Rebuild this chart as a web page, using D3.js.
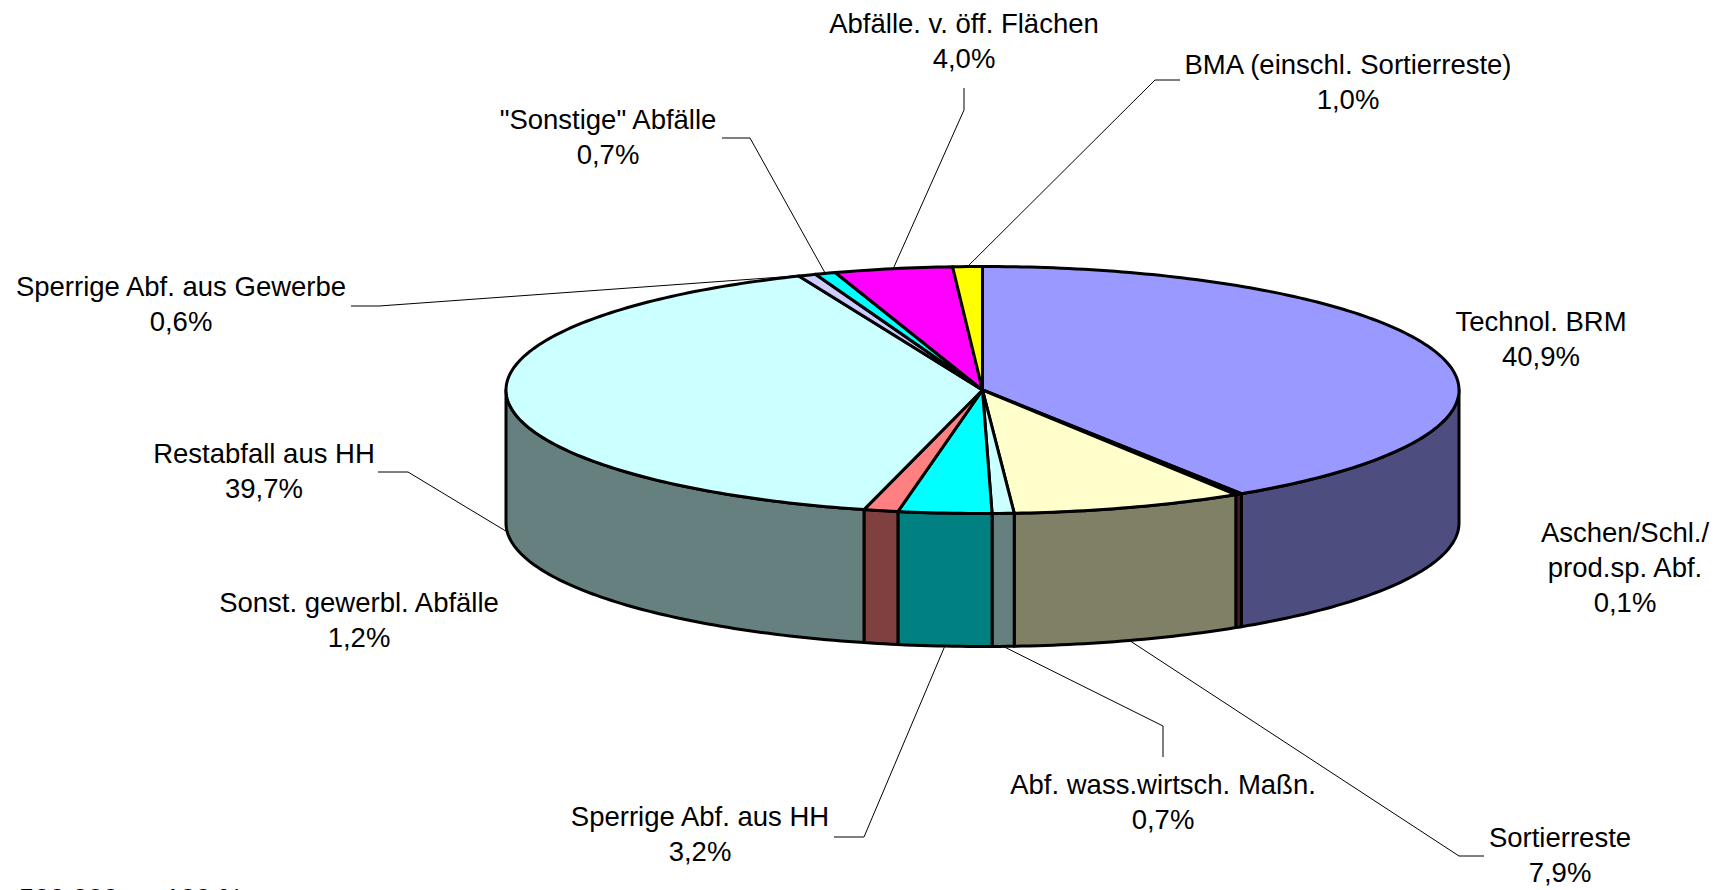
<!DOCTYPE html>
<html>
<head>
<meta charset="utf-8">
<script src="https://cdn.jsdelivr.net/npm/d3@7"></script>
<style>
  html, body { margin: 0; padding: 0; background: #fff; overflow: hidden; }
  text { font-family: "Liberation Sans", Arial, sans-serif; font-size: 27.5px; fill: #000; }
</style>
</head>
<body>
<div id="chart"></div>
<script>
const categories = ['Technol. BRM', 'Aschen/Schl./\nprod.sp. Abf.', 'Sortierreste', 'Abf. wass.wirtsch. Maßn.',
  'Sperrige Abf. aus HH', 'Sonst. gewerbl. Abfälle', 'Restabfall aus HH', 'Sperrige Abf. aus Gewerbe',
  '"Sonstige" Abfälle', 'Abfälle. v. öff. Flächen', 'BMA (einschl. Sortierreste)']
const values = [40.86, 0.14, 7.86, 0.74, 3.16, 1.16, 39.7, 0.6, 0.7, 4.0, 1.0]
const topColors = ['#9999ff', '#993366', '#ffffcc', '#ccffff', '#00ffff', '#ff8080', '#ccffff', '#ccccff', '#00ffff', '#ff00ff', '#ffff00']
const footnote = '500.000 t = 100 %'

// Layout, not data

const W = 1720
const H = 890
const CX = 982.5
const CY = 390
const RX = 476.5
const RY = 123.5
const DEPTH = 133
const MIN_SHARE = 0.22 // thinnest slice stays visible between its outlines

// label centre x, first baseline y, per category
const labelPos = [
  [1541, 331], [1625, 542], [1560, 847], [1163, 794], [700, 826], [359, 612], [264, 463], [181, 296], [608, 129], [964, 33], [1348, 74],
]
// leader elbows, from the slice outwards, null = no leader
const leaders = [
  null, null,
  [[1459, 856], [1484, 856]],
  [[1163, 726], [1163, 757]],
  [[864, 837], [834, 837]],
  null,
  [[408, 472], [378, 472]],
  [[379, 306], [351, 306]],
  [[750, 138], [722, 138]],
  [[964, 110], [964, 88]],
  [[1155, 80], [1180, 80]],
]

const fmt = v => d3.format('.1f')(v).replace('.', ',') + '%'

const pieAngles = d3.pie().value(d => Math.max(d, MIN_SHARE)).sort(null)(values)

// angle 0 = top, clockwise, same as d3.pie
const rim = (a, drop = 0) => [CX + RX * Math.sin(a), CY - RY * Math.cos(a) + drop]

function rimPoints(a0, a1, drop = 0) {
  const n = Math.max(2, Math.ceil(Math.abs(a1 - a0) * 60))
  return d3.range(n + 1).map(i => rim(a0 + ((a1 - a0) * i) / n, drop))
}

const svg = d3
  .select('#chart')
  .append('svg')
  .attr('width', W)
  .attr('height', H)

const line = d3.line()
const darker = c => {
  const { r, g, b } = d3.rgb(c)
  return d3.rgb(r / 2, g / 2, b / 2).formatHex()
}

// Side wall, only the part of each slice facing front

const wallGroup = svg.append('g')
pieAngles.forEach((s, i) => {
  const a0 = Math.max(s.startAngle, Math.PI / 2)
  const a1 = Math.min(s.endAngle, (3 * Math.PI) / 2)
  if (a1 <= a0) return
  const pts = [...rimPoints(a0, a1), ...rimPoints(a1, a0, DEPTH)]
  wallGroup
    .append('path')
    .attr('d', line(pts) + 'Z')
    .attr('fill', darker(topColors[i]))
    .attr('stroke', '#000')
    .attr('stroke-width', 3)
    .attr('stroke-linejoin', 'round')
})

// Top face

const topGroup = svg.append('g')
pieAngles.forEach((s, i) => {
  const pts = [[CX, CY], ...rimPoints(s.startAngle, s.endAngle)]
  topGroup
    .append('path')
    .attr('d', line(pts) + 'Z')
    .attr('fill', topColors[i])
    .attr('stroke', '#000')
    .attr('stroke-width', 3)
    .attr('stroke-linejoin', 'round')
})

// Leader lines

const leadGroup = svg.append('g')
pieAngles.forEach((s, i) => {
  if (!leaders[i]) return
  const mid = (s.startAngle + s.endAngle) / 2
  const front = Math.cos(mid) < 0
  leadGroup
    .append('path')
    .attr('d', line([rim(mid, front ? DEPTH : 0), ...leaders[i]]))
    .attr('fill', 'none')
    .attr('stroke', '#000')
    .attr('stroke-width', 1)
})

// Labels

const labels = svg.append('g').attr('text-anchor', 'middle')
categories.forEach((c, i) => {
  const rows = [...c.split('\n'), fmt(values[i])]
  const t = labels.append('text').attr('transform', `translate(${labelPos[i][0]},${labelPos[i][1]})`)
  rows.forEach((r, k) => {
    t.append('tspan').attr('x', 0).attr('y', k * 35).text(r)
  })
})

svg.append('text').attr('x', 19).attr('y', 908).text(footnote)
</script>
</body>
</html>
